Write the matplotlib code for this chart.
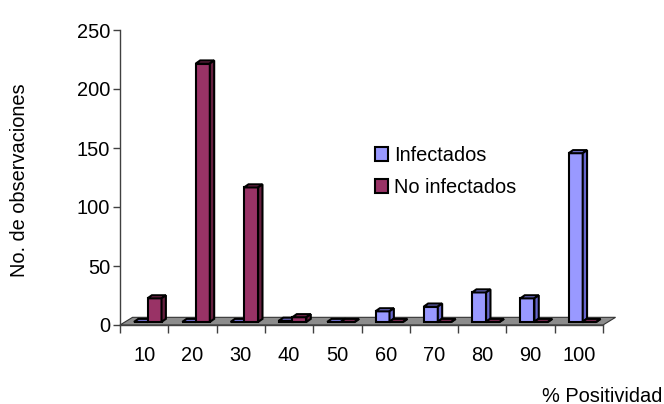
import matplotlib
matplotlib.use("Agg")
import matplotlib.pyplot as plt
from matplotlib.patches import Polygon, Patch

plt.rcParams['font.family'] = ['Liberation Sans', 'DejaVu Sans']

categories = ["10", "20", "30", "40", "50", "60", "70", "80", "90", "100"]
infectados = [0, 0, 0, 1, 0, 9, 13, 25, 20, 143]
no_infectados = [20, 219, 114, 4, 0, 0, 0, 0, 0, 0]
yticks = [0, 50, 100, 150, 200, 250]

series = [
    ("Infectados", infectados, "#9999ff", "#6666cc", "#7a7ae0", 0.29),
    ("No infectados", no_infectados, "#993366", "#66203f", "#7f2a53", 0.57),
]

FS = 14.4
LW = 1.5

fig = plt.figure(figsize=(6.64, 4.04), dpi=100)
ax = fig.add_axes([120 / 664, 79 / 404, 483 / 664, 295 / 404])
ax.set_xlim(0, len(categories))
ax.set_ylim(0, 250)

# floor of the 3-D plot area
fdx, fdy = 0.26, 6.5
floor = Polygon([(0, 0), (len(categories), 0),
                 (len(categories) + fdx, fdy), (fdx, fdy)],
                closed=True, facecolor="#8c8c8c", edgecolor="#333333",
                linewidth=0.8, clip_on=False, zorder=1)
ax.add_patch(floor)

# 3-D columns: front face, top and side
bw = 0.29
bdx, bdy = 0.09, 2.6
base = 2.6
z = 2
for i in range(len(categories)):
    for name, vals, face, side, top, off in series:
        v = vals[i]
        x0 = i + off
        ax.bar(x0, v, width=bw, bottom=base, align="edge", color=face,
               edgecolor="black", linewidth=LW, zorder=z, clip_on=False)
        y1 = base + v
        ax.add_patch(Polygon([(x0, y1), (x0 + bw, y1),
                              (x0 + bw + bdx, y1 + bdy), (x0 + bdx, y1 + bdy)],
                             closed=True, facecolor=top, edgecolor="black",
                             linewidth=LW, zorder=z, clip_on=False))
        ax.add_patch(Polygon([(x0 + bw, base), (x0 + bw + bdx, base + bdy),
                              (x0 + bw + bdx, y1 + bdy), (x0 + bw, y1)],
                             closed=True, facecolor=side, edgecolor="black",
                             linewidth=LW, zorder=z, clip_on=False))
        z += 1

for s in ("top", "right"):
    ax.spines[s].set_visible(False)
ax.spines["left"].set_color("#404040")
ax.spines["bottom"].set_color("#404040")
ax.spines["left"].set_linewidth(1.0)
ax.spines["bottom"].set_linewidth(1.0)
ax.spines["bottom"].set_zorder(50)

ax.set_yticks(yticks)
ax.set_yticklabels([str(t) for t in yticks], fontsize=FS)
ax.set_xticks(range(len(categories) + 1))
ax.set_xticklabels([])
ax.set_xticks([i + 0.5 for i in range(len(categories))], minor=True)
ax.set_xticklabels(categories, minor=True, fontsize=FS)
ax.tick_params(axis="x", which="minor", length=0, pad=15)
ax.tick_params(axis="x", which="major", length=6, color="#404040", width=1.0)
ax.tick_params(axis="y", length=5, color="#404040", width=1.0, pad=2)

fig.text(20 / 664, 1 - 180 / 404, "No. de observaciones", rotation=90,
         ha="center", va="center", fontsize=FS)
fig.text(662 / 664, 1 - 396 / 404, "% Positividad", ha="right",
         va="center", fontsize=FS)

handles = [Patch(facecolor=c, edgecolor="black", linewidth=LW)
           for _, _, c, _, _, _ in series]
ax.legend(handles, [s[0] for s in series], loc="upper left",
          bbox_to_anchor=(375 / 664, 1 - 146 / 404),
          bbox_transform=fig.transFigure, frameon=False, fontsize=FS,
          handlelength=0.65, handleheight=0.65, handletextpad=0.3,
          labelspacing=0.65, borderpad=0, borderaxespad=0)

fig.savefig("out.png", dpi=100)
